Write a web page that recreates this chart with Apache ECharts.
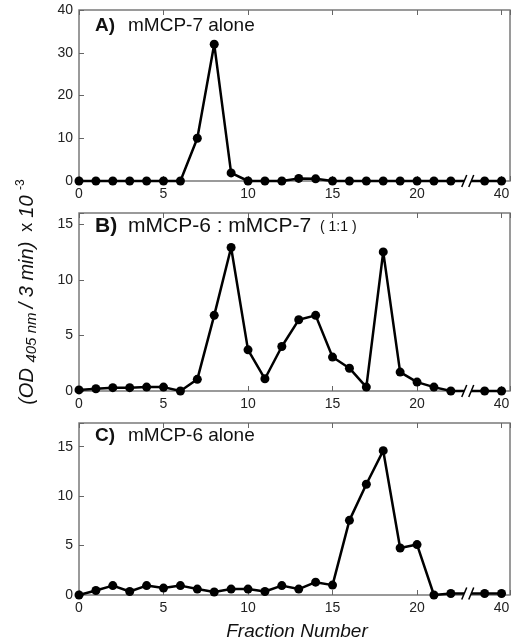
<!DOCTYPE html>
<html>
<head>
<meta charset="utf-8">
<script src="https://cdn.jsdelivr.net/npm/echarts@6/dist/echarts.min.js"></script>
<style>
html,body{margin:0;padding:0;background:#fff;}
#chart{width:513px;height:644px;}
</style>
</head>
<body>
<div id="chart"></div>
<script>
// ---- data ----
var fractions = [0,1,2,3,4,5,6,7,8,9,10,11,12,13,14,15,16,17,18,19,20,21,22,39,40];
var mcp7Alone = [0,0,0,0,0,0,0,10,32,1.9,0,0,0,0.6,0.5,0,0,0,0,0,0,0,0,0,0];
var mcp6mcp7  = [0.1,0.2,0.3,0.3,0.35,0.35,0,1.05,6.8,12.9,3.7,1.1,4.0,6.4,6.8,3.05,2.05,0.35,12.5,1.7,0.8,0.35,0,0,0];
var mcp6Alone = [0,0.45,0.95,0.35,0.95,0.7,0.95,0.6,0.3,0.6,0.6,0.35,0.95,0.6,1.3,1.0,7.55,11.2,14.6,4.75,5.1,0,0.15,0.15,0.15];
var xTickLabels = {0:'0',5:'5',10:'10',15:'15',20:'20',25:'40'};
var panelLetters = ['A)','B)','C)'];
var panelNames = ['mMCP-7 alone','mMCP-6 : mMCP-7','mMCP-6 alone'];
var panelExtra = ['','( 1:1 )',''];
var yMax = [40,16,17.4];
var yInterval = [10,5,5];
var seriesValues = [mcp7Alone, mcp6mcp7, mcp6Alone];

// axis break: fractions above 22 are drawn shifted left
function pos(f){ return f <= 22 ? f : f - 15; }

var FONT = '"Liberation Sans", Arial, Helvetica, sans-serif';
var grids = [
  {left:79, right:3, top:10, height:171},
  {left:79, right:3, top:213, height:178},
  {left:79, right:3, top:423, height:172}
];
var chart = echarts.init(document.getElementById('chart'));
var xAxes = [], yAxes = [], series = [], gridOpts = [];
grids.forEach(function(g, i){
  gridOpts.push(Object.assign({show:true, borderColor:'#7a7a7a', borderWidth:1.5, backgroundColor:'#fff'}, g));
  xAxes.push({
    type:'value', gridIndex:i, min:0, max:25.5, interval:5, position:'bottom',
    axisLine:{show:false}, splitLine:{show:false},
    axisTick:{show:true, inside:true, length:5, lineStyle:{color:'#666', width:1}},
    axisLabel:{margin:6, fontFamily:FONT, fontSize:14, color:'#222',
      formatter:function(v){ return xTickLabels[v] !== undefined ? xTickLabels[v] : ''; }}
  });
  xAxes.push({
    type:'value', gridIndex:i, min:0, max:25.5, interval:5, position:'top',
    axisLine:{show:false}, splitLine:{show:false}, axisLabel:{show:false},
    axisTick:{show:true, inside:true, length:5, lineStyle:{color:'#666', width:1}}
  });
  yAxes.push({
    type:'value', gridIndex:i, min:0, max:yMax[i], interval:yInterval[i],
    axisLine:{show:false}, splitLine:{show:false},
    axisTick:{show:true, inside:true, length:5, lineStyle:{color:'#666', width:1}},
    axisLabel:{margin:6, fontFamily:FONT, fontSize:14, color:'#222',
      formatter:function(v){ return (v % yInterval[i] === 0) ? String(v) : ''; }}
  });
  series.push({
    type:'line', xAxisIndex:2*i, yAxisIndex:i, clip:false,
    data: fractions.map(function(f, k){ return [pos(f), seriesValues[i][k]]; }),
    symbol:'circle', symbolSize:9, showSymbol:true,
    lineStyle:{color:'#000', width:2.5}, itemStyle:{color:'#000'},
    z:3
  });
});

chart.setOption({
  animation:false,
  backgroundColor:'#fff',
  grid:gridOpts, xAxis:xAxes, yAxis:yAxes, series:series
});

// panel titles, axis titles and break marks
var titleY = [27, 228, 437];
var titleSize = [19, 21, 19];
var graphics = [];
for (var i = 0; i < 3; i++) {
  graphics.push({type:'text', left:95, top:titleY[i]-titleSize[i]*0.58, z:10,
    style:{text:panelLetters[i], fontFamily:FONT, fontSize:titleSize[i], fontWeight:'bold', fill:'#111'}});
  graphics.push({type:'text', left:128, top:titleY[i]-titleSize[i]*0.58, z:10,
    style:{text:panelNames[i], fontFamily:FONT, fontSize:titleSize[i], fill:'#111'}});
  if (panelExtra[i]) {
    graphics.push({type:'text', left:320, top:titleY[i]-8, z:10,
      style:{text:panelExtra[i], fontFamily:FONT, fontSize:14, fill:'#111'}});
  }
  // break marks
  var vals = seriesValues[i];
  var i22 = fractions.indexOf(22), i39 = fractions.indexOf(39);
  var p = chart.convertToPixel({gridIndex:i}, [(pos(22)+pos(39))/2, (vals[i22]+vals[i39])/2]);
  var x = p[0], y = p[1];
  graphics.push({type:'polygon', z:20, shape:{points:[[x-6,y+6],[x-1,y-6],[x+6,y-6],[x+1,y+6]]},
    style:{fill:'#fff'}});
  graphics.push({type:'line', z:21, shape:{x1:x-6, y1:y+6, x2:x-1, y2:y-6}, style:{stroke:'#000', lineWidth:1.5}});
  graphics.push({type:'line', z:21, shape:{x1:x+1, y1:y+6, x2:x+6, y2:y-6}, style:{stroke:'#000', lineWidth:1.5}});
}
graphics.push({type:'text', x:297, y:632, z:10,
  style:{text:'Fraction Number', fontFamily:FONT, fontSize:19, fontStyle:'italic', fill:'#111',
    align:'center', verticalAlign:'middle'}});
graphics.push({type:'text', x:27, y:292, rotation:Math.PI/2, z:10,
  style:{
    text:'{m|(OD }{s|405 nm }{m|/ 3 min)}{n|  x }{m|10 }{p|-3}',
    align:'center', verticalAlign:'middle', fill:'#111', fontFamily:FONT,
    rich:{
      m:{fontFamily:FONT, fontSize:20, fontStyle:'italic', fill:'#111', lineHeight:24, verticalAlign:'middle'},
      n:{fontFamily:FONT, fontSize:18, fill:'#111', lineHeight:24, verticalAlign:'middle'},
      s:{fontFamily:FONT, fontSize:15, fontStyle:'italic', fill:'#111', lineHeight:14, verticalAlign:'bottom'},
      p:{fontFamily:FONT, fontSize:12, fill:'#111', lineHeight:12, verticalAlign:'top'}
    }
  }});
chart.setOption({graphic:graphics});
</script>
</body>
</html>
